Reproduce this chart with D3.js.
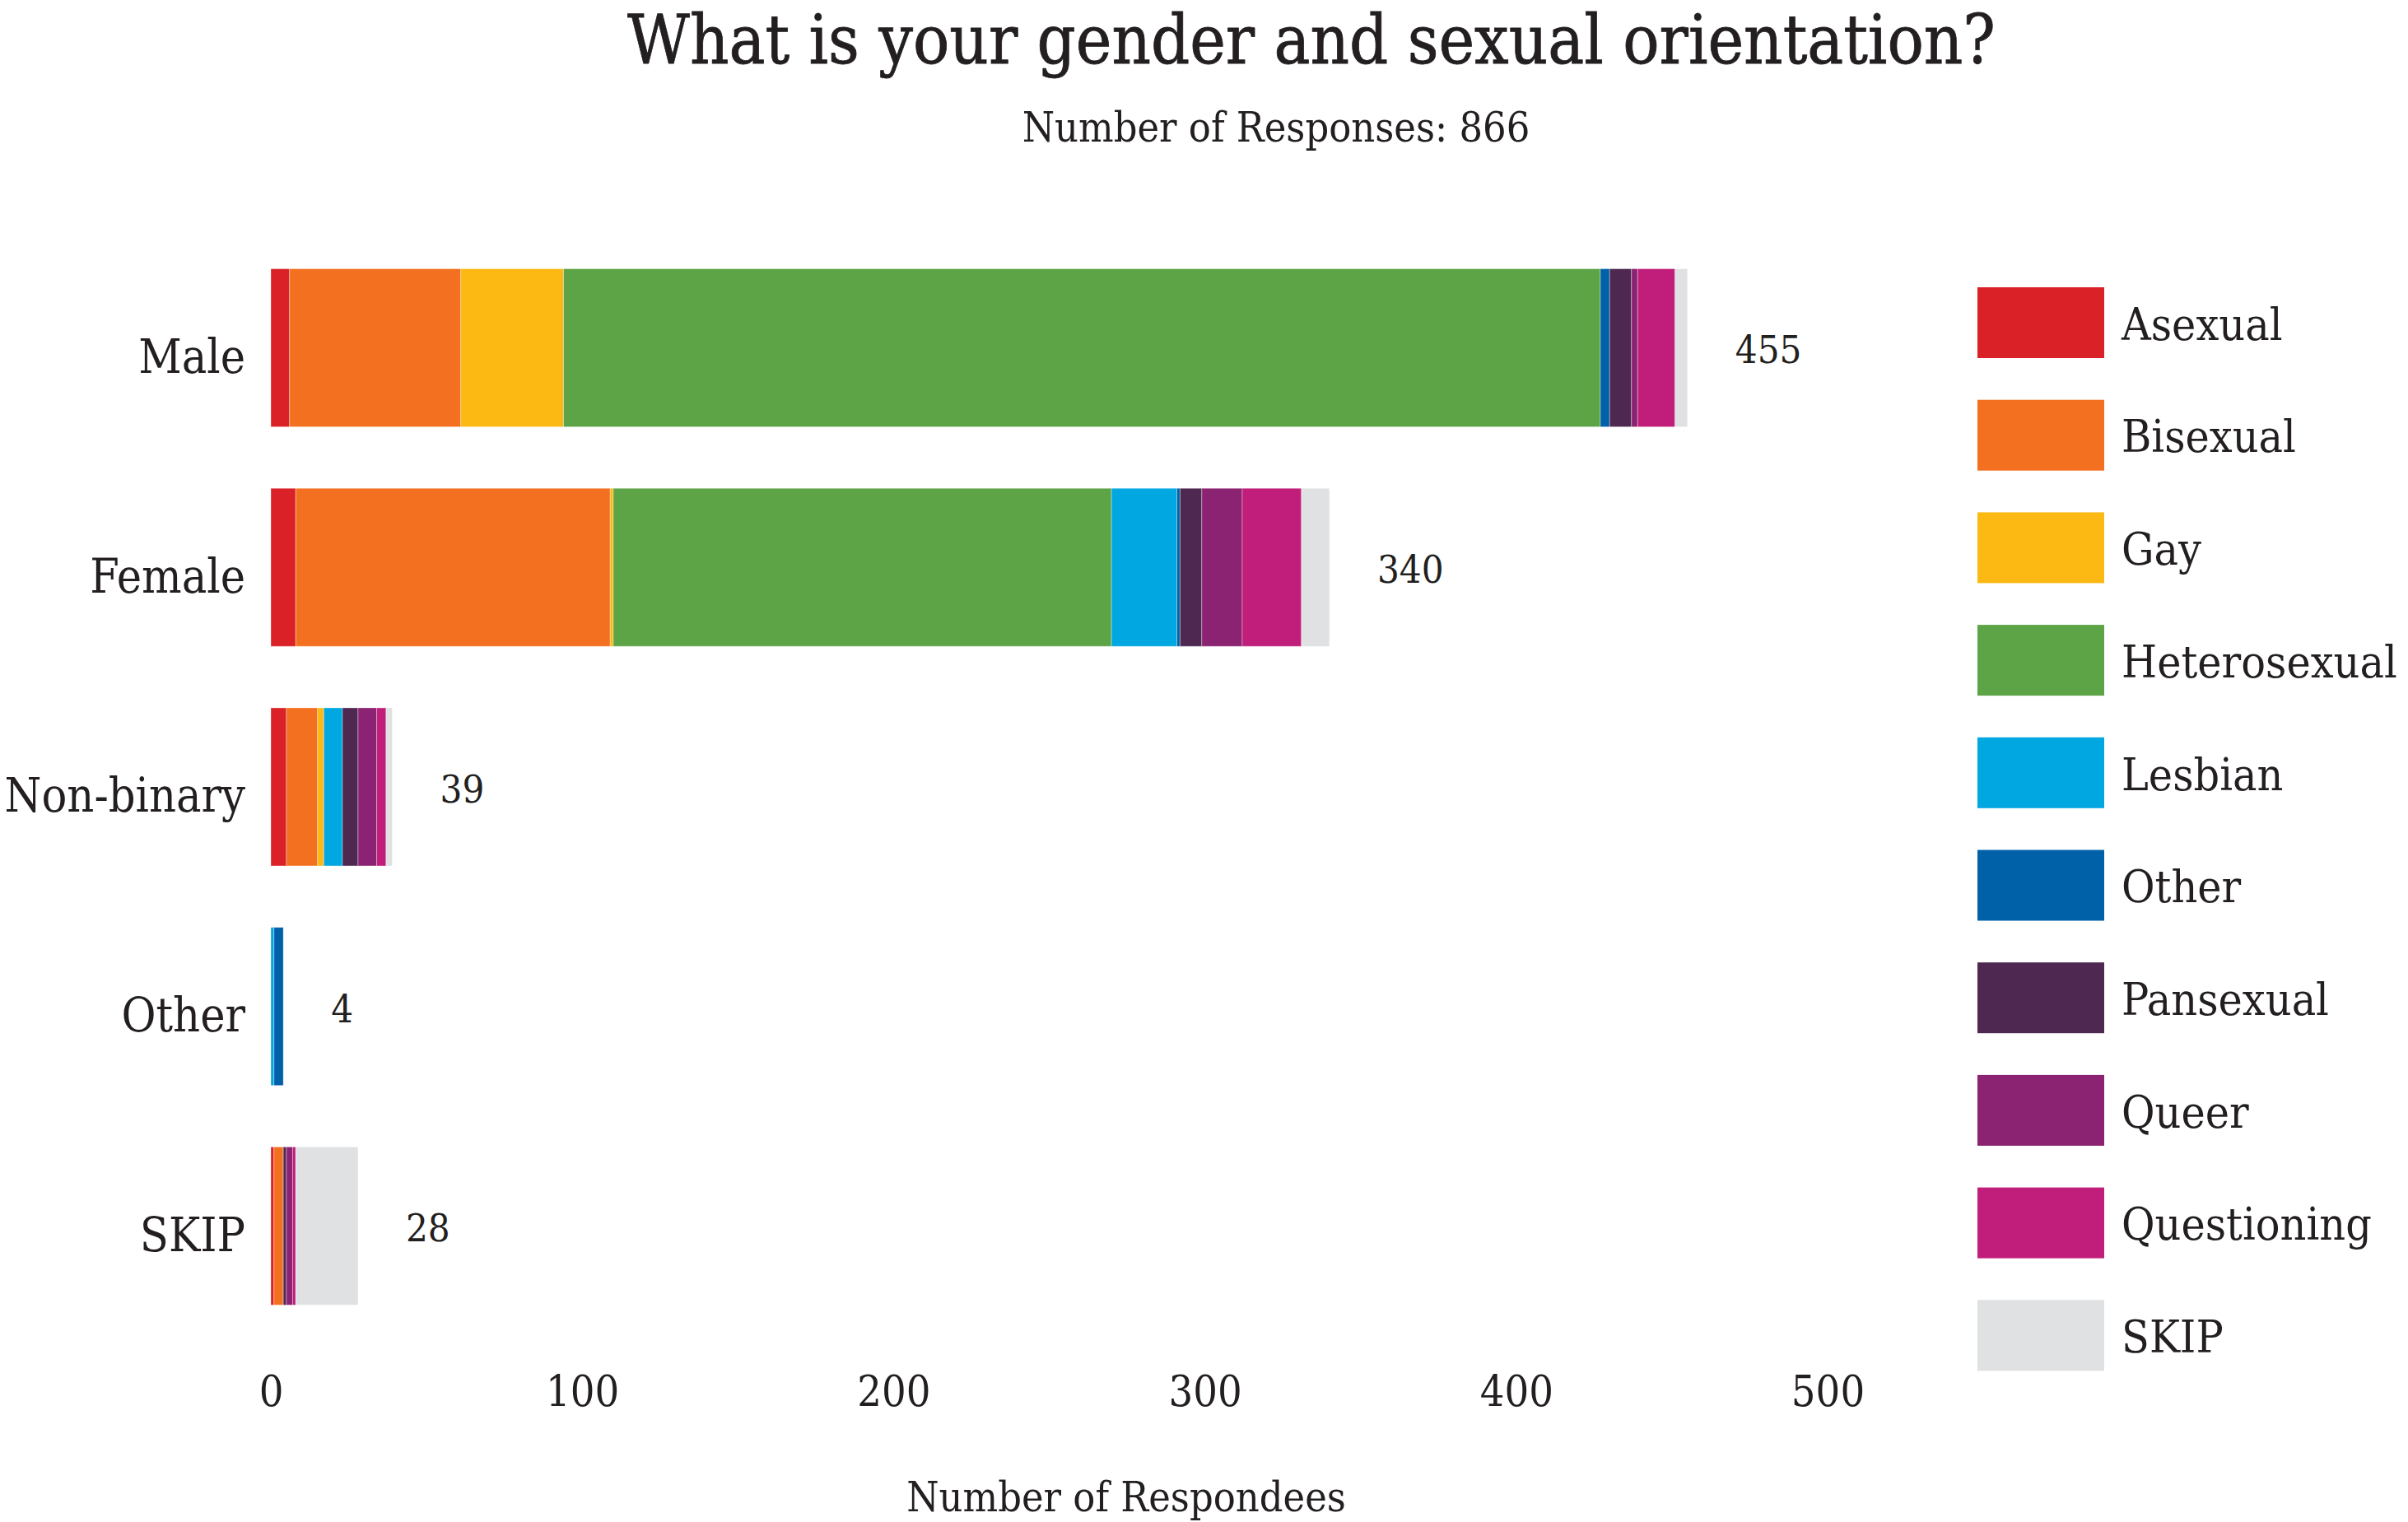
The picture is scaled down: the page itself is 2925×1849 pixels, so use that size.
<!DOCTYPE html>
<html>
<head>
<meta charset="utf-8">
<script src="https://cdn.jsdelivr.net/npm/d3@7"></script>
<style>
  html, body { margin: 0; padding: 0; background: #ffffff; }
  svg { display: block; }
  text { font-family: "DejaVu Serif Condensed", "DejaVu Serif", serif; font-stretch: condensed; fill: #231F20; }
</style>
</head>
<body>
<svg id="chart" width="2925" height="1849"></svg>
<script>
// ---- data ----
const categories = ["Male", "Female", "Non-binary", "Other", "SKIP"];
const orientations = ["Asexual", "Bisexual", "Gay", "Heterosexual", "Lesbian", "Other", "Pansexual", "Queer", "Questioning", "SKIP"];
const asexual      = [6,   8,   5,  0, 1];
const bisexual     = [55,  101, 10, 0, 3];
const gay          = [33,  1,   2,  0, 0];
const heterosexual = [333, 160, 0,  0, 0];
const lesbian      = [0,   21,  6,  1, 0];
const otherOrient  = [3,   1,   0,  3, 0];
const pansexual    = [7,   7,   5,  0, 1];
const queer        = [2,   13,  6,  0, 2];
const questioning  = [12,  19,  3,  0, 1];
const skip         = [4,   9,   2,  0, 20];
const totals       = [455, 340, 39, 4, 28];
const xTicks       = [0, 100, 200, 300, 400, 500];
const colors = ["#DA2128", "#F37021", "#FDB913", "#5DA446", "#00A7E1", "#0061A8", "#4E2851", "#8B2372", "#C01E7A", "#E0E1E3"];
const titleText = "What is your gender and sexual orientation?";
const subtitleText = "Number of Responses: 866";
const xTitleText = "Number of Respondees";

// ---- build table ----
const seriesValues = [asexual, bisexual, gay, heterosexual, lesbian, otherOrient, pansexual, queer, questioning, skip];
const table = categories.map((c, i) => {
  const row = { category: c, total: totals[i] };
  orientations.forEach((o, j) => { row[o] = seriesValues[j][i]; });
  return row;
});

const svg = d3.select("#chart");

const x = d3.scaleLinear().domain([0, 500]).range([329, 2220]);
const y = d3.scaleBand().domain(categories).range([289.2, 1622.7]).paddingInner(0.28).paddingOuter(0.14);
const color = d3.scaleOrdinal().domain(orientations).range(colors);

const stacked = d3.stack().keys(orientations)(table);

// bars
svg.append("g").selectAll("g.series")
  .data(stacked)
  .join("g")
  .attr("class", "series")
  .attr("fill", d => color(d.key))
  .selectAll("rect")
  .data(d => d.map(v => ({ v, cat: v.data.category })))
  .join("rect")
  .attr("x", d => x(d.v[0]))
  .attr("y", d => y(d.cat))
  .attr("width", d => Math.max(0, x(d.v[1]) - x(d.v[0])))
  .attr("height", y.bandwidth())
  .attr("stroke", "#ffffff")
  .attr("stroke-opacity", d => (d.v[1] - d.v[0]) > 0 ? 0.35 : 0)
  .attr("stroke-width", 1);

// total labels
svg.append("g").selectAll("text")
  .data(table)
  .join("text")
  .attr("x", d => x(d.total) + 58)
  .attr("y", d => y(d.category) + y.bandwidth() / 2 + 2)
  .attr("dy", "0.36em")
  .attr("font-size", 47)
  .text(d => d.total);

// y axis labels
const yAxis = d3.axisLeft(y).tickSize(0).tickPadding(31);
const yg = svg.append("g").attr("transform", "translate(329,10)").call(yAxis);
yg.select(".domain").remove();
yg.selectAll("text")
  .attr("font-size", 57)
  .attr("font-family", null)
  .attr("fill", "#231F20")
  .attr("dy", "0.36em");

// x axis
const xAxis = d3.axisBottom(x).tickValues(xTicks).tickSize(0).tickPadding(0).tickFormat(d3.format("d"));
const xg = svg.append("g").attr("transform", "translate(0,1708)").call(xAxis);
xg.select(".domain").remove();
xg.selectAll("text")
  .attr("font-size", 52)
  .attr("font-family", null)
  .attr("fill", "#231F20")
  .attr("dy", 0)
  .attr("y", 0);

// titles
svg.append("text")
  .attr("x", 1593).attr("y", 77)
  .attr("text-anchor", "middle")
  .attr("font-size", 82)
  .attr("stroke", "#231F20")
  .attr("stroke-width", 0.8)
  .text(titleText);

svg.append("text")
  .attr("x", 1550).attr("y", 172)
  .attr("text-anchor", "middle")
  .attr("font-size", 50)
  .text(subtitleText);

svg.append("text")
  .attr("x", 1368).attr("y", 1836)
  .attr("text-anchor", "middle")
  .attr("font-size", 50)
  .text(xTitleText);

// legend
const legend = svg.append("g").selectAll("g")
  .data(orientations)
  .join("g")
  .attr("transform", (d, i) => `translate(2402, ${349 + i * 136.7})`);
legend.append("rect")
  .attr("width", 154).attr("height", 86)
  .attr("fill", d => color(d));
legend.append("text")
  .attr("x", 175).attr("y", 44)
  .attr("dy", "0.36em")
  .attr("font-size", 55)
  .text(d => d);
</script>
</body>
</html>
